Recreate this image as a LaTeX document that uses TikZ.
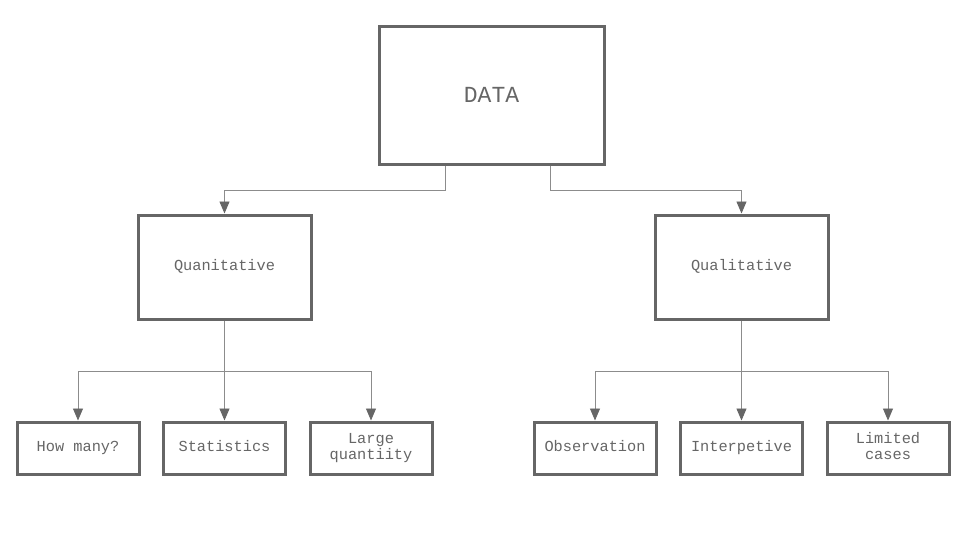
\documentclass[tikz,border=0pt]{standalone}
\usepackage{fontspec}
\setmonofont{Liberation Mono}
\usetikzlibrary{arrows.meta}
\definecolor{boxgray}{HTML}{666666}
\definecolor{linegray}{HTML}{8C8C8C}
\begin{document}
\begin{tikzpicture}[x=1pt,y=-1pt,
  box/.style={draw=boxgray,line width=3pt,fill=white,text=boxgray,font=\ttfamily\fontsize{15.3}{16}\selectfont,align=center,inner sep=0pt},
  conn/.style={draw=linegray,line width=0.9pt,-{Triangle[length=12pt,width=10pt,color=boxgray]}},
  plain/.style={draw=linegray,line width=0.9pt}]
\useasboundingbox (0,0) rectangle (963,550);
\node[box,minimum width=225pt,minimum height=138pt,font=\ttfamily\fontsize{23}{26}\selectfont] (data) at (491.5,95) {DATA};
\node[box,minimum width=173pt,minimum height=104pt] (quan) at (224.5,267) {\strut Quanitative};
\node[box,minimum width=173pt,minimum height=104pt] (qual) at (741.5,267) {\strut Qualitative};
\node[box,minimum width=122pt,minimum height=52pt] (how) at (78,448) {\strut How many?};
\node[box,minimum width=122pt,minimum height=52pt] (stat) at (224.5,448) {\strut Statistics};
\node[box,minimum width=122pt,minimum height=52pt] (large) at (371,448) {\strut Large\\\strut quantiity};
\node[box,minimum width=122pt,minimum height=52pt] (obs) at (595,448) {\strut Observation};
\node[box,minimum width=122pt,minimum height=52pt] (interp) at (741.5,448) {\strut Interpetive};
\node[box,minimum width=122pt,minimum height=52pt] (lim) at (888,448) {\strut Limited\\\strut cases};
% top connectors
\draw[conn] ([xshift=-46.5pt]data.south) |- (224.5,190) -- (quan.north);
\draw[conn] ([xshift=58.5pt]data.south) |- (741.5,190) -- (qual.north);
% quantitative children
\coordinate (qj) at (224.5,371);
\draw[plain] (quan.south) -- (qj);
\draw[conn] (qj) -| (how.north);
\draw[conn] (qj) -- (stat.north);
\draw[conn] (qj) -| (large.north);
% qualitative children
\coordinate (lj) at (741.5,371);
\draw[plain] (qual.south) -- (lj);
\draw[conn] (lj) -| (obs.north);
\draw[conn] (lj) -- (interp.north);
\draw[conn] (lj) -| (lim.north);
\end{tikzpicture}
\end{document}
